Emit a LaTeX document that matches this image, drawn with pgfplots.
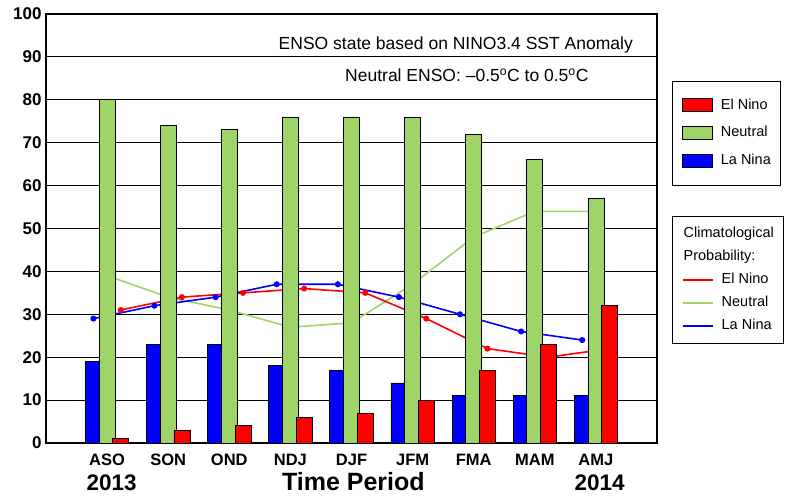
\documentclass[border=0pt]{standalone}
\usepackage{fontspec}
\setmainfont{Liberation Sans}
\usepackage{pgfplots}
\pgfplotsset{compat=1.18}
\definecolor{ngreen}{RGB}{158,212,104}
\pgfplotsset{
  boxlegend/.style={legend image code/.code={\draw[##1, line width=0.8bp] (0bp,-6.5bp) rectangle (30bp,6.5bp);}},
  linelegend/.style={legend image code/.code={\draw[##1] (0bp,0bp) -- (30bp,0bp);}},
  common/.style={
    scale only axis, width=611bp, height=429bp,
    at={(0,0)}, anchor=south west,
    xmin=-1, xmax=9, ymin=0, ymax=100,
    axis line style={black, line width=1.2bp},
    major tick length=0pt,
    clip=false,
    legend cell align=left,
  },
}
\begin{document}
\begin{tikzpicture}
\path[use as bounding box] (-46bp,-55bp) rectangle (740bp,443bp);
% ---- back axis: grid, climatology lines, second legend
\begin{axis}[common,
  xtick={0,...,8}, xticklabels={ASO,SON,OND,NDJ,DJF,JFM,FMA,MAM,AMJ},
  ytick={0,10,...,100},
  ymajorgrids, major grid style={black, line width=0.8bp},
  /pgf/number format/assume math mode=true,
  yticklabel style={font=\fontsize{17bp}{20bp}\selectfont\bfseries, inner sep=0pt, xshift=-4.3bp},
  xticklabel style={font=\fontsize{16.5bp}{20bp}\selectfont\bfseries, anchor=base, yshift=-22bp},
  legend style={at={(1.025,0.5298)}, anchor=north west, draw=black, line width=0.8bp,
    font=\fontsize{14.5bp}{17bp}\selectfont, inner xsep=9.4bp, inner ysep=11bp,
    row sep=9.5bp, column sep=8bp,
    nodes={inner sep=0pt, text height=10.5bp, text depth=3bp}},
]
\addplot[ngreen, line width=1.6bp, forget plot] coordinates {(0,39)(1,34)(2,31)(3,27)(4,28)(5,37)(6,48)(7,54)(8,54)};
\addplot[red, line width=1.6bp, mark=*, mark size=2.2bp, forget plot] coordinates {(0.224,31)(1.224,34)(2.224,35)(3.224,36)(4.224,35)(5.224,29)(6.224,22)(7.224,20)(8.224,22)};
\addplot[blue, line width=1.6bp, mark=*, mark size=2.2bp, forget plot] coordinates {(-0.224,29)(0.776,32)(1.776,34)(2.776,37)(3.776,37)(4.776,34)(5.776,30)(6.776,26)(7.776,24)};
\addlegendimage{empty legend}\addlegendentry{\hspace*{-38bp}Climatological}
\addlegendimage{empty legend}\addlegendentry{\hspace*{-38bp}Probability:}
\addlegendimage{linelegend, red, line width=1.6bp}\addlegendentry{El Nino}
\addlegendimage{linelegend, ngreen, line width=1.6bp}\addlegendentry{Neutral}
\addlegendimage{linelegend, blue, line width=1.6bp}\addlegendentry{La Nina}
\node[anchor=base east, inner sep=0pt, font=\fontsize{17.5bp}{20bp}\selectfont] at (rel axis cs:0.9607,0.9177) {ENSO state based on NINO3.4 SST Anomaly};
\node[anchor=base west, inner sep=0pt, font=\fontsize{17.5bp}{20bp}\selectfont] at (rel axis cs:0.4894,0.8422) {Neutral ENSO: \textendash0.5\textsuperscript{o}C to 0.5\textsuperscript{o}C};
\node[anchor=base, inner sep=0pt, font=\fontsize{22.5bp}{26bp}\selectfont\bfseries] at (rel axis cs:0.1075,-0.1096) {2013};
\node[anchor=base, inner sep=0pt, font=\fontsize{25bp}{28bp}\selectfont\bfseries] at (rel axis cs:0.503,-0.1096) {Time Period};
\node[anchor=base, inner sep=0pt, font=\fontsize{22.5bp}{26bp}\selectfont\bfseries] at (rel axis cs:0.906,-0.1096) {2014};
\end{axis}
% ---- front axis: bars, first legend
\begin{axis}[common,
  xtick=\empty, ytick=\empty,
  legend style={at={(1.025,0.8445)}, anchor=north west, draw=black, line width=0.8bp,
    font=\fontsize{14.5bp}{17bp}\selectfont, inner xsep=9.4bp, inner ysep=17.3bp,
    row sep=14bp, column sep=8bp,
    nodes={inner sep=0pt, text height=10.5bp, text depth=3bp}},
]
\addplot[ybar, bar width=16bp, bar shift=-13.7bp, fill=blue, draw=black, line width=0.8bp, forget plot] coordinates {(0,19)(1,23)(2,23)(3,18)(4,17)(5,14)(6,11)(7,11)(8,11)};
\addplot[ybar, bar width=16bp, bar shift=0bp, fill=ngreen, draw=black, line width=0.8bp, forget plot] coordinates {(0,80)(1,74)(2,73)(3,76)(4,76)(5,76)(6,72)(7,66)(8,57)};
\addplot[ybar, bar width=16bp, bar shift=13.7bp, fill=red, draw=black, line width=0.8bp, forget plot] coordinates {(0,1)(1,3)(2,4)(3,6)(4,7)(5,10)(6,17)(7,23)(8,32)};
\addlegendimage{boxlegend, fill=red, draw=black}\addlegendentry{El Nino}
\addlegendimage{boxlegend, fill=ngreen, draw=black}\addlegendentry{Neutral}
\addlegendimage{boxlegend, fill=blue, draw=black}\addlegendentry{La Nina}
\end{axis}
\end{tikzpicture}
\end{document}
